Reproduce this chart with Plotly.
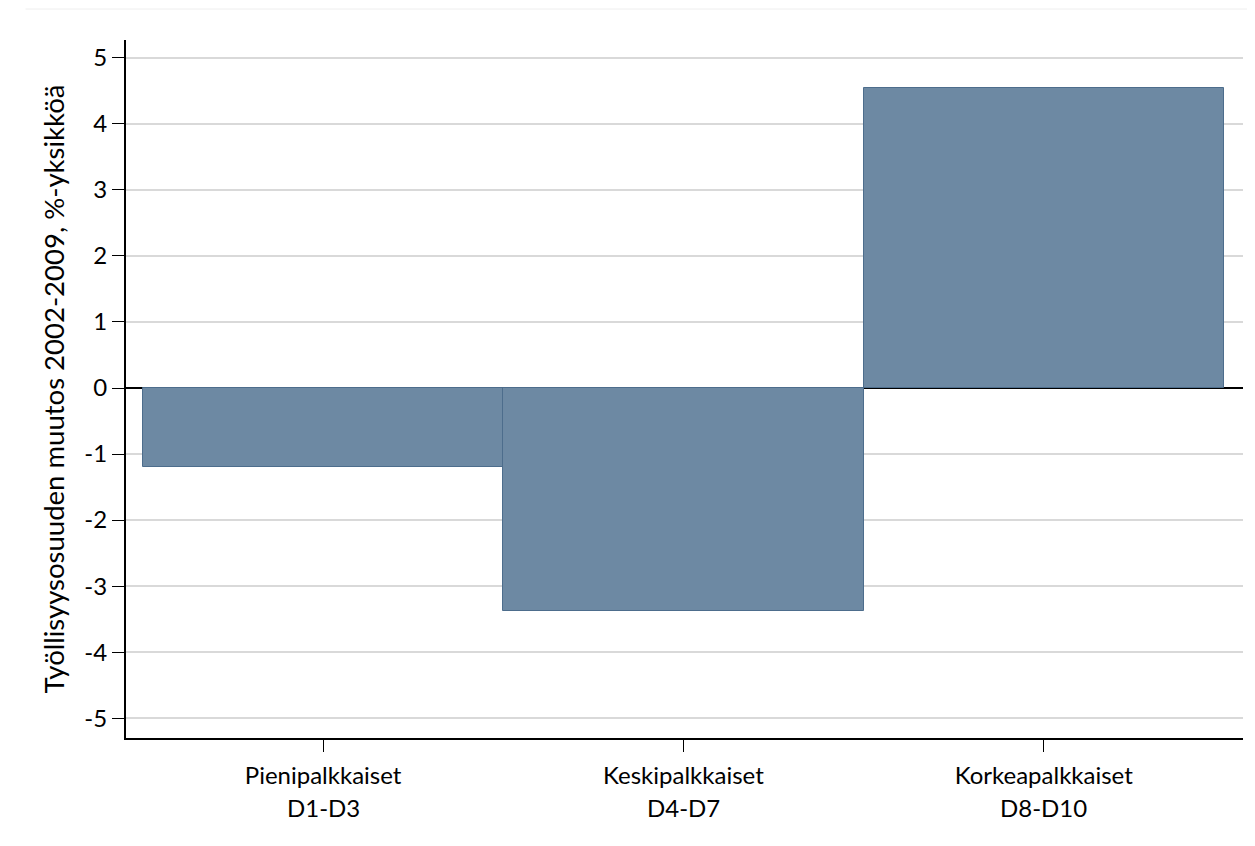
import plotly.graph_objects as go

categories = ["Pienipalkkaiset", "Keskipalkkaiset", "Korkeapalkkaiset"]
deciles = ["D1-D3", "D4-D7", "D8-D10"]
values = [-1.2, -3.38, 4.55]
y_ticks = [-5, -4, -3, -2, -1, 0, 1, 2, 3, 4, 5]
y_ticktext = ["-5", "-4", "-3", "-2", "-1", "0", "1", "2", "3", "4", "5"]

FONT = "Lato, 'Open Sans', sans-serif"

xpos = list(range(len(categories)))

fig = go.Figure()
fig.add_trace(go.Bar(
    x=xpos, y=values, width=1.0,
    marker=dict(color="#6d89a3", line=dict(color="#4d6d8c", width=1)),
    showlegend=False,
))

for xi, d in zip(xpos, deciles):
    fig.add_annotation(x=xi, xref="x", y=0, yref="paper", yshift=-69,
                       text=d, showarrow=False, yanchor="middle",
                       font=dict(family=FONT, size=24, color="#000000"))

fig.update_layout(
    width=1255, height=846,
    margin=dict(l=118, r=20, t=32, b=116),
    paper_bgcolor="white", plot_bgcolor="white",
    font=dict(family=FONT, size=24, color="#000000"),
    bargap=0,
    xaxis=dict(
        range=[-0.547, 2.553],
        tickmode="array", tickvals=xpos, ticktext=categories,
        ticks="outside", ticklen=12, tickwidth=1.2, tickcolor="#000000",
        showline=True, linecolor="#000000", linewidth=2,
        showgrid=False, zeroline=False,
        tickfont=dict(family=FONT, size=24),
        ticklabelstandoff=3,
    ),
    yaxis=dict(
        range=[-5.3, 5.27],
        tickmode="array", tickvals=y_ticks, ticktext=y_ticktext,
        ticks="outside", ticklen=12, tickwidth=1.2, tickcolor="#000000",
        showline=True, linecolor="#000000", linewidth=2,
        showgrid=True, gridcolor="#d9d9d9", gridwidth=1.5,
        zeroline=True, zerolinecolor="#000000", zerolinewidth=2,
        tickfont=dict(family=FONT, size=24),
        title=dict(text="Työllisyysosuuden muutos 2002-2009, %-yksikköä",
                   font=dict(family=FONT, size=27.5), standoff=12),
    ),
    shapes=[dict(type="line", xref="paper", yref="paper",
                 x0=-0.09, x1=1.011, y0=1.0444, y1=1.0444,
                 line=dict(color="#eeeeee", width=1))],
)

fig.write_html("out.html")
